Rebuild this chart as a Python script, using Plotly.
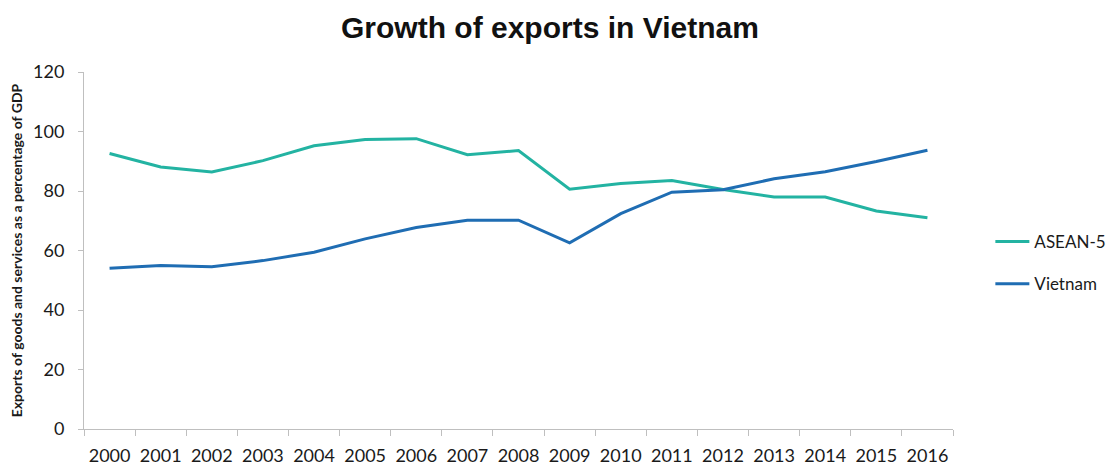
import plotly.graph_objects as go

years = [str(y) for y in range(2000, 2017)]

asean5 = [92.6, 88.1, 86.4, 90.2, 95.2, 97.3, 97.6, 92.2, 93.6,
          80.6, 82.5, 83.5, 80.5, 78.0, 78.0, 73.3, 71.0]
vietnam = [54.0, 55.0, 54.5, 56.6, 59.4, 63.9, 67.7, 70.2, 70.2,
           62.6, 72.4, 79.6, 80.4, 84.1, 86.5, 89.9, 93.7]

y_ticks = [0, 20, 40, 60, 80, 100, 120]

TEAL = "#23b3a2"
BLUE = "#1f6db3"
AXIS = "#bfbfbf"
BODY_FONT = "Lato, 'Open Sans', sans-serif"
TICK_FONT = dict(family=BODY_FONT, size=18, color="#1a1a1a")

fig = go.Figure()
fig.add_trace(go.Scatter(x=years, y=asean5, name="ASEAN-5", mode="lines",
                         line=dict(color=TEAL, width=3), legendgroup="a"))
fig.add_trace(go.Scatter(x=years, y=vietnam, name="Vietnam", mode="lines",
                         line=dict(color=BLUE, width=3), legendgroup="b"))

fig.update_layout(
    width=1111, height=466,
    margin=dict(l=84, r=158, t=72, b=37, autoexpand=False),
    paper_bgcolor="white", plot_bgcolor="white",
    title=dict(text="<b>Growth of exports in Vietnam</b>",
               x=0.495, xanchor="center", y=0.942, yanchor="middle",
               font=dict(family="'Liberation Sans', Arial, sans-serif", size=30, color="#111111")),
    legend=dict(x=1.043, xanchor="left", y=0.465, yanchor="middle",
                font=dict(family=BODY_FONT, size=17, color="#1a1a1a"),
                tracegroupgap=17, itemwidth=34, bgcolor="rgba(0,0,0,0)"),
    showlegend=True,
)

fig.update_xaxes(
    type="category", range=[-0.5, 16.5],
    showline=True, linecolor=AXIS, linewidth=1,
    ticks="outside", tickson="boundaries", ticklen=6, tickcolor=AXIS,
    ticklabelstandoff=10, tickangle=0, automargin=False,
    showgrid=False, zeroline=False, tickfont=TICK_FONT,
)
fig.update_yaxes(
    range=[0, 120], tickvals=y_ticks,
    showline=True, linecolor=AXIS, linewidth=1,
    ticks="outside", ticklen=5, tickcolor=AXIS,
    ticklabelstandoff=10, automargin=False,
    showgrid=False, zeroline=False, tickfont=TICK_FONT,
    title=dict(text="<b>Exports of goods and services as a percentage of GDP</b>",
               font=dict(family=BODY_FONT, size=14, color="#1a1a1a"),
               standoff=7),
)

fig.write_html("out.html")
